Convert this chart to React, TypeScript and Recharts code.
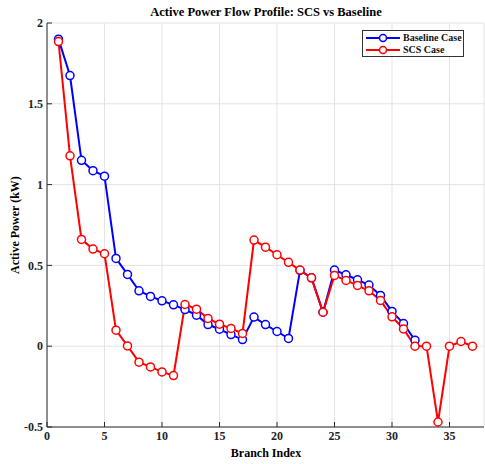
import React from "react";
import { CartesianGrid, Line, LineChart, XAxis, YAxis } from "recharts";

const branchIndex = [
  1, 2, 3, 4, 5, 6, 7, 8, 9, 10, 11, 12, 13, 14, 15, 16, 17, 18, 19, 20, 21,
  22, 23, 24, 25, 26, 27, 28, 29, 30, 31, 32, 33, 34, 35, 36, 37,
];
const baselineCase = [
  1.9, 1.675, 1.15, 1.086, 1.052, 0.543, 0.444, 0.343, 0.308, 0.281, 0.256,
  0.227, 0.192, 0.134, 0.105, 0.072, 0.041, 0.18, 0.134, 0.091, 0.048, 0.469,
  0.423, 0.21, 0.471, 0.442, 0.411, 0.378, 0.314, 0.215, 0.14, 0.037,
];
const scsCase = [
  1.885, 1.178, 0.661, 0.601, 0.572, 0.099, 0.002, -0.099, -0.128, -0.159,
  -0.182, 0.258, 0.229, 0.172, 0.136, 0.11, 0.079, 0.657, 0.613, 0.566, 0.519,
  0.471, 0.423, 0.21, 0.438, 0.407, 0.376, 0.343, 0.283, 0.182, 0.107, 0.0,
  0.0, -0.469, 0.0, 0.029, 0.0,
];
const xTicks = [0, 5, 10, 15, 20, 25, 30, 35];
const yTicks = [-0.5, 0, 0.5, 1, 1.5, 2];
const seriesNames = ["Baseline Case", "SCS Case"];
const seriesColors = ["#0000ff", "#ff0000"];

const data = branchIndex.map((b, i) => ({
  branch: b,
  baseline: baselineCase[i],
  scs: scsCase[i],
}));

const font = "'Liberation Serif', 'Times New Roman', serif";
const axisColor = "#2a2a2a";
const tickStyle = { fontFamily: font, fontSize: 12, fontWeight: 700, fill: "#222" };

const LegendBox = () => (
  <div
    style={{
      position: "absolute",
      left: 362,
      top: 30,
      width: 102,
      height: 27,
      border: "1px solid #333",
      background: "#fff",
      fontFamily: font,
      fontWeight: 700,
      fontSize: 10,
      lineHeight: "12px",
      paddingTop: 1,
      boxSizing: "border-box",
    }}
  >
    {seriesNames.map((name, i) => (
      <div key={name} style={{ display: "flex", alignItems: "center", height: 12 }}>
        <svg width={38} height={10} style={{ marginLeft: 2 }}>
          <line x1={1} y1={5} x2={35} y2={5} stroke={seriesColors[i]} strokeWidth={2} />
          <circle cx={18} cy={5} r={3.5} stroke={seriesColors[i]} strokeWidth={1.5} fill="#fff" />
        </svg>
        <span style={{ color: "#111" }}>{name}</span>
      </div>
    ))}
  </div>
);

export default function App() {
  return (
    <div style={{ position: "absolute", left: 0, top: 0, width: 485, height: 464, background: "#fff" }}>
      <div
        style={{
          position: "absolute",
          left: 47,
          width: 438,
          top: 5,
          textAlign: "center",
          fontFamily: font,
          fontWeight: 700,
          fontSize: 12.5,
        }}
      >
        Active Power Flow Profile: SCS vs Baseline
      </div>
      <div
        style={{
          position: "absolute",
          left: 47,
          width: 438,
          top: 446,
          textAlign: "center",
          fontFamily: font,
          fontWeight: 700,
          fontSize: 12,
        }}
      >
        Branch Index
      </div>
      <div
        style={{
          position: "absolute",
          left: 15,
          top: 225,
          transform: "translate(-50%, -50%) rotate(-90deg)",
          whiteSpace: "nowrap",
          fontFamily: font,
          fontWeight: 700,
          fontSize: 12,
        }}
      >
        Active Power (kW)
      </div>
      <LineChart
        width={485}
        height={464}
        data={data}
        margin={{ top: 23, right: 1, bottom: 0, left: 0 }}
      >
        <CartesianGrid stroke="#e3e3e3" strokeWidth={1} />
        <XAxis
          dataKey="branch"
          type="number"
          domain={[0, 38]}
          ticks={xTicks}
          allowDataOverflow
          height={37}
          tickSize={-5}
          tickMargin={9}
          tick={tickStyle}
          stroke={axisColor}
          interval={0}
        />
        <XAxis
          xAxisId="top"
          orientation="top"
          type="number"
          domain={[0, 38]}
          ticks={xTicks}
          height={0}
          tickSize={-5}
          tick={false}
          stroke={axisColor}
        />
        <YAxis
          type="number"
          domain={[-0.5, 2]}
          ticks={yTicks}
          width={47}
          tickSize={-5}
          tickMargin={9}
          tick={tickStyle}
          stroke={axisColor}
          interval={0}
        />
        <YAxis
          yAxisId="right"
          orientation="right"
          type="number"
          domain={[-0.5, 2]}
          ticks={yTicks}
          width={0}
          tickSize={-5}
          tick={false}
          stroke={axisColor}
        />
        <Line
          dataKey="baseline"
          name={seriesNames[0]}
          stroke={seriesColors[0]}
          strokeWidth={2}
          dot={{ r: 4, stroke: seriesColors[0], strokeWidth: 1.5, fill: "#fff" }}
          isAnimationActive={false}
        />
        <Line
          dataKey="scs"
          name={seriesNames[1]}
          stroke={seriesColors[1]}
          strokeWidth={2}
          dot={{ r: 4, stroke: seriesColors[1], strokeWidth: 1.5, fill: "#fff" }}
          isAnimationActive={false}
        />
      </LineChart>
      <LegendBox />
    </div>
  );
}
